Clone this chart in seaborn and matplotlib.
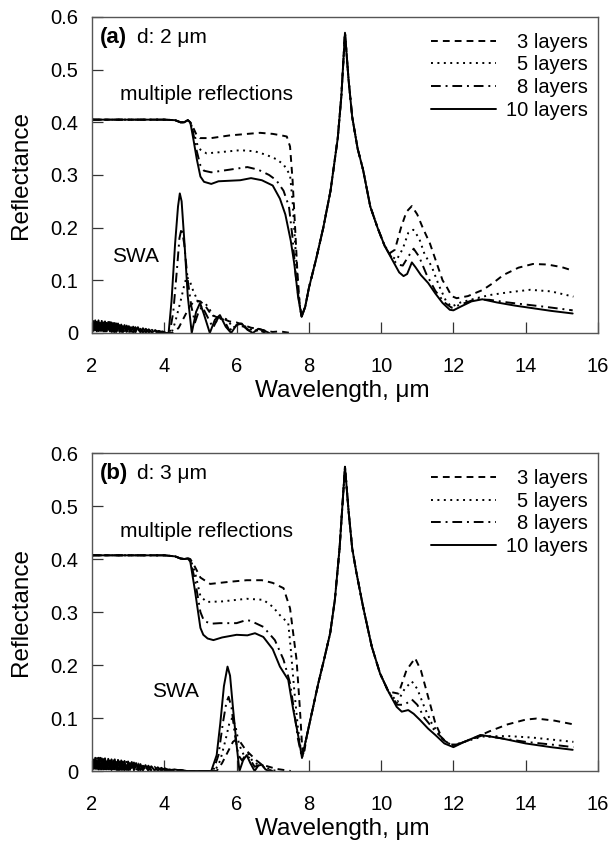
import numpy as np
import matplotlib
matplotlib.use("Agg")
import matplotlib.pyplot as plt
import seaborn as sns

# ---------------- data ----------------
LAYERS = [3, 5, 8, 10]
LEGEND_LABELS = ["3 layers", "5 layers", "8 layers", "10 layers"]
X_TICKS = [2, 4, 6, 8, 10, 12, 14, 16]
Y_TICKS = [0, 0.1, 0.2, 0.3, 0.4, 0.5, 0.6]
Y_TICK_LABELS = ["0", "0.1", "0.2", "0.3", "0.4", "0.5", "0.6"]

# ---- panel (a): multiple reflections ----
A_HEAD_X = [2.0, 3.0, 4.0, 4.3, 4.45, 4.55, 4.65]
A_HEAD_Y = [0.405, 0.405, 0.405, 0.404, 0.400, 0.400, 0.404]
A_MID_X = [7.9, 8.0, 8.2, 8.4, 8.6, 8.8, 8.9, 9.0, 9.1, 9.2, 9.35, 9.5, 9.7, 9.9, 10.1]
A_MID_Y = [0.05, 0.085, 0.14, 0.2, 0.27, 0.37, 0.45, 0.57, 0.48, 0.41, 0.35, 0.31, 0.24, 0.2, 0.165]

A3_PRE_X = [4.72, 4.8, 4.9, 4.99, 5.3, 5.8, 6.3, 6.65, 7.0, 7.25, 7.39, 7.48, 7.55, 7.62, 7.68, 7.74, 7.8]
A3_PRE_Y = [0.40, 0.39, 0.375, 0.37, 0.37, 0.375, 0.378, 0.38, 0.378, 0.375, 0.373, 0.354, 0.29, 0.20, 0.12, 0.06, 0.031]
A5_PRE_X = [4.72, 4.8, 4.9, 5.0, 5.17, 5.5, 6.1, 6.5, 6.83, 7.1, 7.3, 7.48, 7.55, 7.62, 7.7, 7.76, 7.8]
A5_PRE_Y = [0.40, 0.385, 0.36, 0.348, 0.341, 0.343, 0.347, 0.345, 0.338, 0.33, 0.32, 0.30, 0.25, 0.17, 0.09, 0.045, 0.031]
A8_PRE_X = [4.72, 4.8, 4.9, 5.0, 5.1, 5.3, 5.6, 6.0, 6.3, 6.6, 6.9, 7.1, 7.3, 7.45, 7.55, 7.65, 7.75, 7.8]
A8_PRE_Y = [0.40, 0.38, 0.345, 0.318, 0.308, 0.305, 0.308, 0.312, 0.315, 0.31, 0.30, 0.29, 0.27, 0.24, 0.18, 0.10, 0.05, 0.031]
A10_PRE_X = [4.72, 4.8, 4.9, 5.0, 5.1, 5.3, 5.5, 5.8, 6.1, 6.4, 6.7, 7.0, 7.2, 7.35, 7.5, 7.6, 7.7, 7.8]
A10_PRE_Y = [0.40, 0.37, 0.33, 0.297, 0.287, 0.283, 0.288, 0.289, 0.29, 0.294, 0.29, 0.28, 0.255, 0.225, 0.175, 0.13, 0.07, 0.031]

A3_POST_X = [10.25, 10.38, 10.55, 10.7, 10.85, 11.0, 11.15, 11.35, 11.55, 11.7, 11.81, 11.95, 12.09, 12.4, 12.82, 13.1, 13.38, 13.8, 14.2, 14.6, 15.0, 15.32]
A3_POST_Y = [0.152, 0.158, 0.2, 0.23, 0.241, 0.225, 0.2, 0.17, 0.13, 0.10, 0.088, 0.07, 0.066, 0.07, 0.082, 0.095, 0.11, 0.124, 0.131, 0.13, 0.125, 0.118]
A5_POST_X = [10.3, 10.43, 10.6, 10.75, 10.89, 11.05, 11.2, 11.4, 11.6, 11.8, 11.95, 12.2, 12.64, 13.0, 13.5, 14.12, 14.7, 15.32]
A5_POST_Y = [0.145, 0.139, 0.16, 0.19, 0.196, 0.18, 0.15, 0.126, 0.09, 0.06, 0.05, 0.058, 0.066, 0.072, 0.077, 0.082, 0.079, 0.069]
A8_POST_X = [10.3, 10.45, 10.6, 10.75, 10.9, 11.05, 11.25, 11.5, 11.75, 11.95, 12.2, 12.6, 13.0, 13.5, 14.0, 14.5, 15.3]
A8_POST_Y = [0.142, 0.13, 0.128, 0.145, 0.16, 0.145, 0.112, 0.08, 0.058, 0.048, 0.054, 0.064, 0.063, 0.058, 0.054, 0.05, 0.043]
A10_POST_X = [10.3, 10.5, 10.62, 10.72, 10.85, 10.95, 11.1, 11.3, 11.5, 11.7, 11.9, 12.0, 12.2, 12.5, 12.8, 13.2, 13.7, 14.2, 14.7, 15.3]
A10_POST_Y = [0.14, 0.115, 0.108, 0.112, 0.134, 0.125, 0.11, 0.095, 0.075, 0.057, 0.044, 0.043, 0.05, 0.06, 0.064, 0.058, 0.052, 0.047, 0.042, 0.037]

# ---- panel (a): SWA ----
A_OSC_X = [2.0, 2.045, 2.09, 2.135, 2.18, 2.225, 2.27, 2.315, 2.36, 2.405, 2.45, 2.495, 2.54, 2.585, 2.63,
           2.675, 2.72, 2.765, 2.81, 2.855, 2.9, 2.96, 3.02, 3.08, 3.14, 3.2, 3.27, 3.34, 3.41, 3.49, 3.57,
           3.66, 3.75, 3.85, 3.95, 4.05]
A3_OSC_Y = [0.003, 0.022, 0.004, 0.021, 0.004, 0.021, 0.003, 0.02, 0.003, 0.019, 0.003, 0.018, 0.002, 0.017, 0.002,
            0.016, 0.002, 0.015, 0.002, 0.013, 0.002, 0.012, 0.001, 0.011, 0.001, 0.01, 0.001, 0.008, 0.001, 0.007,
            0.001, 0.005, 0.001, 0.003, 0.001, 0.0]
A5_OSC_Y = [0.02, 0.006, 0.021, 0.005, 0.02, 0.005, 0.019, 0.004, 0.019, 0.004, 0.018, 0.004, 0.017, 0.003, 0.016,
            0.003, 0.015, 0.003, 0.014, 0.002, 0.013, 0.002, 0.012, 0.002, 0.011, 0.002, 0.009, 0.001, 0.008, 0.001,
            0.006, 0.001, 0.005, 0.001, 0.002, 0.0]
A8_OSC_Y = [0.006, 0.026, 0.005, 0.025, 0.004, 0.024, 0.004, 0.023, 0.003, 0.022, 0.003, 0.021, 0.003, 0.019, 0.002,
            0.018, 0.002, 0.017, 0.002, 0.015, 0.002, 0.014, 0.002, 0.012, 0.001, 0.011, 0.001, 0.009, 0.001, 0.008,
            0.001, 0.006, 0.001, 0.004, 0.001, 0.0]
A10_OSC_Y = [0.025, 0.004, 0.024, 0.003, 0.024, 0.004, 0.023, 0.003, 0.022, 0.003, 0.021, 0.003, 0.020, 0.002, 0.019,
             0.002, 0.018, 0.002, 0.016, 0.002, 0.015, 0.002, 0.013, 0.002, 0.012, 0.001, 0.011, 0.001, 0.009, 0.001,
             0.007, 0.001, 0.005, 0.001, 0.003, 0.0]

A3_SWA_X = [4.25, 4.4, 4.55, 4.7, 4.85, 5.0, 5.15, 5.3, 5.45, 5.6, 5.8, 6.0, 6.2, 6.4, 6.6, 6.8, 7.0, 7.2, 7.4, 7.5]
A3_SWA_Y = [0.0, 0.01, 0.03, 0.05, 0.062, 0.06, 0.05, 0.035, 0.03, 0.028, 0.022, 0.02, 0.015, 0.01, 0.008, 0.004, 0.002, 0.003, 0.001, 0.0]
A5_SWA_X = [4.2, 4.3, 4.45, 4.55, 4.62, 4.7, 4.8, 4.9, 5.0, 5.15, 5.3, 5.45, 5.6, 5.75, 5.9, 6.1, 6.3, 6.5, 6.7, 6.9]
A5_SWA_Y = [0.0, 0.02, 0.06, 0.09, 0.107, 0.10, 0.08, 0.065, 0.05, 0.055, 0.04, 0.02, 0.03, 0.025, 0.01, 0.018, 0.01, 0.004, 0.006, 0.0]
A8_SWA_X = [4.15, 4.25, 4.35, 4.42, 4.48, 4.55, 4.65, 4.75, 4.85, 4.95, 5.05, 5.2, 5.35, 5.5, 5.65, 5.8, 6.0, 6.2, 6.4, 6.6, 6.8]
A8_SWA_Y = [0.0, 0.04, 0.12, 0.18, 0.199, 0.17, 0.10, 0.05, 0.02, 0.04, 0.05, 0.03, 0.01, 0.03, 0.025, 0.005, 0.015, 0.012, 0.003, 0.006, 0.0]
A10_SWA_X = [4.12, 4.2, 4.3, 4.38, 4.43, 4.48, 4.56, 4.65, 4.76, 4.88, 4.99, 5.1, 5.26, 5.4, 5.54, 5.7, 5.85, 6.0, 6.14, 6.3, 6.45, 6.6, 6.75, 6.9]
A10_SWA_Y = [0.0, 0.06, 0.17, 0.24, 0.265, 0.25, 0.17, 0.07, 0.0, 0.04, 0.057, 0.035, 0.0, 0.025, 0.034, 0.012, 0.0, 0.015, 0.018, 0.006, 0.0, 0.008, 0.005, 0.0]

# ---- panel (b): multiple reflections ----
B_HEAD_X = [2.0, 3.0, 4.0, 4.3, 4.45, 4.55, 4.65]
B_HEAD_Y = [0.407, 0.407, 0.407, 0.405, 0.401, 0.400, 0.401]
B_MID_X = [7.94, 8.1, 8.26, 8.42, 8.59, 8.72, 8.85, 9.0, 9.1, 9.2, 9.32, 9.5, 9.74, 9.97, 10.2]
B_MID_Y = [0.065, 0.115, 0.165, 0.21, 0.26, 0.323, 0.42, 0.574, 0.49, 0.42, 0.373, 0.31, 0.235, 0.184, 0.15]

B3_PRE_X = [4.72, 4.85, 5.0, 5.27, 5.8, 6.28, 6.7, 7.0, 7.3, 7.48, 7.66, 7.75, 7.82, 7.86]
B3_PRE_Y = [0.40, 0.385, 0.365, 0.353, 0.357, 0.36, 0.36, 0.355, 0.345, 0.307, 0.21, 0.12, 0.04, 0.03]
B5_PRE_X = [4.72, 4.85, 5.0, 5.17, 5.6, 6.28, 6.74, 7.0, 7.2, 7.43, 7.5, 7.6, 7.7, 7.81]
B5_PRE_Y = [0.40, 0.375, 0.33, 0.319, 0.32, 0.325, 0.323, 0.31, 0.294, 0.279, 0.23, 0.15, 0.08, 0.025]
B8_PRE_X = [4.72, 4.85, 5.0, 5.1, 5.3, 5.54, 6.0, 6.28, 6.4, 6.74, 7.06, 7.3, 7.48, 7.6, 7.7, 7.81]
B8_PRE_Y = [0.398, 0.36, 0.30, 0.283, 0.278, 0.279, 0.279, 0.285, 0.283, 0.272, 0.247, 0.21, 0.166, 0.11, 0.06, 0.025]
B10_PRE_X = [4.72, 4.85, 5.0, 5.08, 5.2, 5.36, 5.6, 6.0, 6.3, 6.51, 6.74, 7.0, 7.2, 7.43, 7.57, 7.71, 7.81]
B10_PRE_Y = [0.395, 0.34, 0.27, 0.257, 0.25, 0.247, 0.252, 0.257, 0.256, 0.26, 0.253, 0.23, 0.197, 0.172, 0.115, 0.065, 0.025]

B3_POST_X = [10.48, 10.7, 10.94, 11.1, 11.3, 11.5, 11.7, 11.9, 12.1, 12.5, 13.0, 13.5, 14.0, 14.3, 14.8, 15.32]
B3_POST_Y = [0.146, 0.19, 0.213, 0.19, 0.14, 0.09, 0.06, 0.05, 0.05, 0.06, 0.075, 0.088, 0.097, 0.099, 0.095, 0.088]
B5_POST_X = [10.45, 10.65, 10.85, 11.0, 11.2, 11.4, 11.7, 11.95, 12.3, 12.8, 13.5, 14.2, 15.32]
B5_POST_Y = [0.13, 0.155, 0.169, 0.155, 0.12, 0.09, 0.06, 0.048, 0.055, 0.065, 0.066, 0.063, 0.055]
B8_POST_X = [10.45, 10.65, 10.85, 11.0, 11.2, 11.5, 11.8, 12.0, 12.4, 12.8, 13.3, 14.0, 14.7, 15.32]
B8_POST_Y = [0.125, 0.125, 0.135, 0.125, 0.10, 0.075, 0.055, 0.047, 0.058, 0.067, 0.062, 0.055, 0.05, 0.045]
B10_POST_X = [10.43, 10.57, 10.75, 10.9, 11.08, 11.3, 11.5, 11.75, 12.0, 12.3, 12.75, 13.3, 14.0, 14.7, 15.3]
B10_POST_Y = [0.121, 0.112, 0.115, 0.108, 0.096, 0.08, 0.068, 0.052, 0.045, 0.055, 0.068, 0.062, 0.052, 0.045, 0.04]

# ---- panel (b): SWA ----
B_OSC_X = [2.0, 2.045, 2.09, 2.135, 2.18, 2.225, 2.27, 2.315, 2.36, 2.405, 2.45, 2.495, 2.54, 2.585, 2.63,
           2.675, 2.72, 2.765, 2.81, 2.855, 2.9, 2.95, 3.0, 3.05, 3.1, 3.16, 3.22, 3.28, 3.34, 3.41, 3.48,
           3.56, 3.64, 3.73, 3.82, 3.92, 4.02, 4.14, 4.28, 4.44, 4.62]
B3_OSC_Y = [0.003, 0.023, 0.004, 0.023, 0.003, 0.022, 0.003, 0.022, 0.003, 0.021, 0.003, 0.02, 0.002, 0.02, 0.002,
            0.019, 0.002, 0.018, 0.002, 0.017, 0.002, 0.016, 0.002, 0.015, 0.002, 0.013, 0.001, 0.012, 0.001, 0.01,
            0.001, 0.008, 0.001, 0.007, 0.001, 0.005, 0.001, 0.003, 0.001, 0.002, 0.0]
B5_OSC_Y = [0.021, 0.006, 0.022, 0.005, 0.021, 0.005, 0.021, 0.005, 0.02, 0.004, 0.02, 0.004, 0.019, 0.004, 0.018,
            0.003, 0.018, 0.003, 0.017, 0.003, 0.016, 0.003, 0.015, 0.002, 0.014, 0.002, 0.013, 0.002, 0.011, 0.001,
            0.009, 0.001, 0.008, 0.001, 0.006, 0.001, 0.004, 0.001, 0.002, 0.001, 0.0]
B8_OSC_Y = [0.005, 0.027, 0.004, 0.026, 0.004, 0.025, 0.004, 0.025, 0.003, 0.024, 0.003, 0.023, 0.003, 0.023, 0.003,
            0.022, 0.002, 0.021, 0.002, 0.02, 0.002, 0.019, 0.002, 0.018, 0.002, 0.016, 0.001, 0.014, 0.001, 0.012,
            0.001, 0.01, 0.001, 0.008, 0.001, 0.006, 0.001, 0.004, 0.001, 0.002, 0.0]
B10_OSC_Y = [0.026, 0.004, 0.025, 0.004, 0.025, 0.003, 0.024, 0.003, 0.024, 0.003, 0.023, 0.003, 0.022, 0.003, 0.022,
             0.002, 0.021, 0.002, 0.02, 0.002, 0.019, 0.002, 0.018, 0.002, 0.017, 0.002, 0.015, 0.001, 0.013, 0.001,
             0.011, 0.001, 0.009, 0.001, 0.007, 0.001, 0.005, 0.001, 0.003, 0.001, 0.0]

B3_SWA_X = [4.8, 5.45, 5.6, 5.75, 5.9, 6.0, 6.1, 6.25, 6.4, 6.55, 6.7, 6.9, 7.1, 7.3, 7.5]
B3_SWA_Y = [0.0, 0.0, 0.015, 0.035, 0.055, 0.06, 0.055, 0.04, 0.03, 0.02, 0.012, 0.008, 0.004, 0.002, 0.0]
B5_SWA_X = [4.8, 5.4, 5.55, 5.7, 5.8, 5.88, 5.97, 6.07, 6.2, 6.32, 6.45, 6.6, 6.75, 6.9, 7.1]
B5_SWA_Y = [0.0, 0.0, 0.02, 0.06, 0.09, 0.10, 0.085, 0.05, 0.03, 0.032, 0.018, 0.012, 0.01, 0.004, 0.0]
B8_SWA_X = [4.8, 5.35, 5.5, 5.62, 5.72, 5.78, 5.86, 5.95, 6.05, 6.15, 6.25, 6.35, 6.5, 6.65, 6.8, 7.0]
B8_SWA_Y = [0.0, 0.0, 0.03, 0.09, 0.13, 0.14, 0.12, 0.07, 0.03, 0.02, 0.03, 0.025, 0.008, 0.012, 0.005, 0.0]
B10_SWA_X = [4.8, 5.3, 5.45, 5.55, 5.65, 5.75, 5.82, 5.9, 6.0, 6.08, 6.18, 6.28, 6.38, 6.5, 6.6, 6.7, 6.8, 6.9]
B10_SWA_Y = [0.0, 0.0, 0.03, 0.09, 0.16, 0.197, 0.18, 0.12, 0.05, 0.0, 0.02, 0.03, 0.015, 0.0, 0.01, 0.012, 0.003, 0.0]

# ---------------- assemble ----------------
def mr(head_x, head_y, pre_x, pre_y, mid_x, mid_y, post_x, post_y):
    return (np.concatenate([head_x, pre_x, mid_x, post_x]),
            np.concatenate([head_y, pre_y, mid_y, post_y]))

def swa(osc_x, osc_y, px, py):
    return np.concatenate([osc_x, px]), np.concatenate([osc_y, py])

PANELS = [
    dict(tag="(a)", d="d: 2 \u03bcm",
         mr={3: mr(A_HEAD_X, A_HEAD_Y, A3_PRE_X, A3_PRE_Y, A_MID_X, A_MID_Y, A3_POST_X, A3_POST_Y),
             5: mr(A_HEAD_X, A_HEAD_Y, A5_PRE_X, A5_PRE_Y, A_MID_X, A_MID_Y, A5_POST_X, A5_POST_Y),
             8: mr(A_HEAD_X, A_HEAD_Y, A8_PRE_X, A8_PRE_Y, A_MID_X, A_MID_Y, A8_POST_X, A8_POST_Y),
             10: mr(A_HEAD_X, A_HEAD_Y, A10_PRE_X, A10_PRE_Y, A_MID_X, A_MID_Y, A10_POST_X, A10_POST_Y)},
         swa={3: swa(A_OSC_X, A3_OSC_Y, A3_SWA_X, A3_SWA_Y),
              5: swa(A_OSC_X, A5_OSC_Y, A5_SWA_X, A5_SWA_Y),
              8: swa(A_OSC_X, A8_OSC_Y, A8_SWA_X, A8_SWA_Y),
              10: swa(A_OSC_X, A10_OSC_Y, A10_SWA_X, A10_SWA_Y)},
         swa_pos=(2.55, 0.135), mr_pos=(2.775, 0.442),
         rect=[0.1503, 0.605, 0.8268, 0.3749]),
    dict(tag="(b)", d="d: 3 \u03bcm",
         mr={3: mr(B_HEAD_X, B_HEAD_Y, B3_PRE_X, B3_PRE_Y, B_MID_X, B_MID_Y, B3_POST_X, B3_POST_Y),
             5: mr(B_HEAD_X, B_HEAD_Y, B5_PRE_X, B5_PRE_Y, B_MID_X, B_MID_Y, B5_POST_X, B5_POST_Y),
             8: mr(B_HEAD_X, B_HEAD_Y, B8_PRE_X, B8_PRE_Y, B_MID_X, B_MID_Y, B8_POST_X, B8_POST_Y),
             10: mr(B_HEAD_X, B_HEAD_Y, B10_PRE_X, B10_PRE_Y, B_MID_X, B_MID_Y, B10_POST_X, B10_POST_Y)},
         swa={3: swa(B_OSC_X, B3_OSC_Y, B3_SWA_X, B3_SWA_Y),
              5: swa(B_OSC_X, B5_OSC_Y, B5_SWA_X, B5_SWA_Y),
              8: swa(B_OSC_X, B8_OSC_Y, B8_SWA_X, B8_SWA_Y),
              10: swa(B_OSC_X, B10_OSC_Y, B10_SWA_X, B10_SWA_Y)},
         swa_pos=(3.65, 0.140), mr_pos=(2.775, 0.442),
         rect=[0.1503, 0.0854, 0.8268, 0.3772]),
]

STYLES = {3: (0, (3.5, 2.6)), 5: (0, (1.0, 2.3)), 8: (0, (5.0, 2.5, 1.0, 2.5)), 10: "-"}

# ---------------- plot ----------------
sns.set_theme(style="ticks")
plt.rcParams["font.family"] = ["Liberation Sans", "DejaVu Sans"]
plt.rcParams["text.color"] = "black"
plt.rcParams["axes.labelcolor"] = "black"
plt.rcParams["xtick.color"] = "#333333"
plt.rcParams["ytick.color"] = "#333333"

fig = plt.figure(figsize=(6.12, 8.43), dpi=100)
fig.patch.set_facecolor("white")
LW = 1.4
legends = []
for p in PANELS:
    ax = fig.add_axes(p["rect"])
    handles = []
    for n in LAYERS:
        x, y = p["swa"][n]
        sns.lineplot(x=x, y=y, ax=ax, color="black", linewidth=LW,
                     linestyle=STYLES[n], sort=False, estimator=None)
    for n in LAYERS:
        x, y = p["mr"][n]
        sns.lineplot(x=x, y=y, ax=ax, color="black", linewidth=LW,
                     linestyle=STYLES[n], sort=False, estimator=None)
        handles.append(ax.lines[-1])

    ax.set_xlim(2, 16)
    ax.set_ylim(0, 0.6)
    ax.set_xticks(X_TICKS)
    ax.set_yticks(Y_TICKS)
    ax.set_yticklabels(Y_TICK_LABELS)
    ax.tick_params(axis="both", which="major", direction="in", length=8, width=0.9,
                   bottom=True, left=True, top=False, right=False,
                   color="#333333", labelsize=14.5, labelcolor="black")
    ax.tick_params(axis="x", pad=17)
    ax.tick_params(axis="y", pad=10)
    for s in ax.spines.values():
        s.set_visible(True)
        s.set_linewidth(1.0)
        s.set_color("#555555")
    ax.set_xlabel("Wavelength, \u03bcm", fontsize=17.5, color="black")
    ax.set_ylabel("Reflectance", fontsize=17.5, color="black")
    ax.xaxis.set_label_coords(0.495, -0.149)
    ax.yaxis.set_label_coords(-0.119, 0.5)

    ax.text(0.016, 0.917, p["tag"], transform=ax.transAxes, fontsize=16,
            fontweight="bold", ha="left", va="baseline", color="black")
    ax.text(0.089, 0.917, p["d"], transform=ax.transAxes, fontsize=15,
            ha="left", va="baseline", color="black")
    ax.text(p["mr_pos"][0], p["mr_pos"][1], "multiple reflections", fontsize=15,
            ha="left", va="baseline", color="black")
    ax.text(p["swa_pos"][0], p["swa_pos"][1], "SWA", fontsize=15,
            ha="left", va="baseline", color="black")

    leg = ax.legend(handles, LEGEND_LABELS, loc="upper right",
                    bbox_to_anchor=(0.980, 0.950), frameon=False, fontsize=14.5,
                    handlelength=3.2, handletextpad=0.5, labelspacing=0.18,
                    borderpad=0.0, borderaxespad=0.0, labelcolor="black")
    legends.append(leg)

fig.canvas.draw()
renderer = fig.canvas.get_renderer()
for leg in legends:
    texts = leg.get_texts()
    widths = [t.get_window_extent(renderer).width for t in texts]
    wmax = max(widths)
    for t, w in zip(texts, widths):
        t.set_position((wmax - w, 0))

fig.savefig("out.png", dpi=100, facecolor="white")
